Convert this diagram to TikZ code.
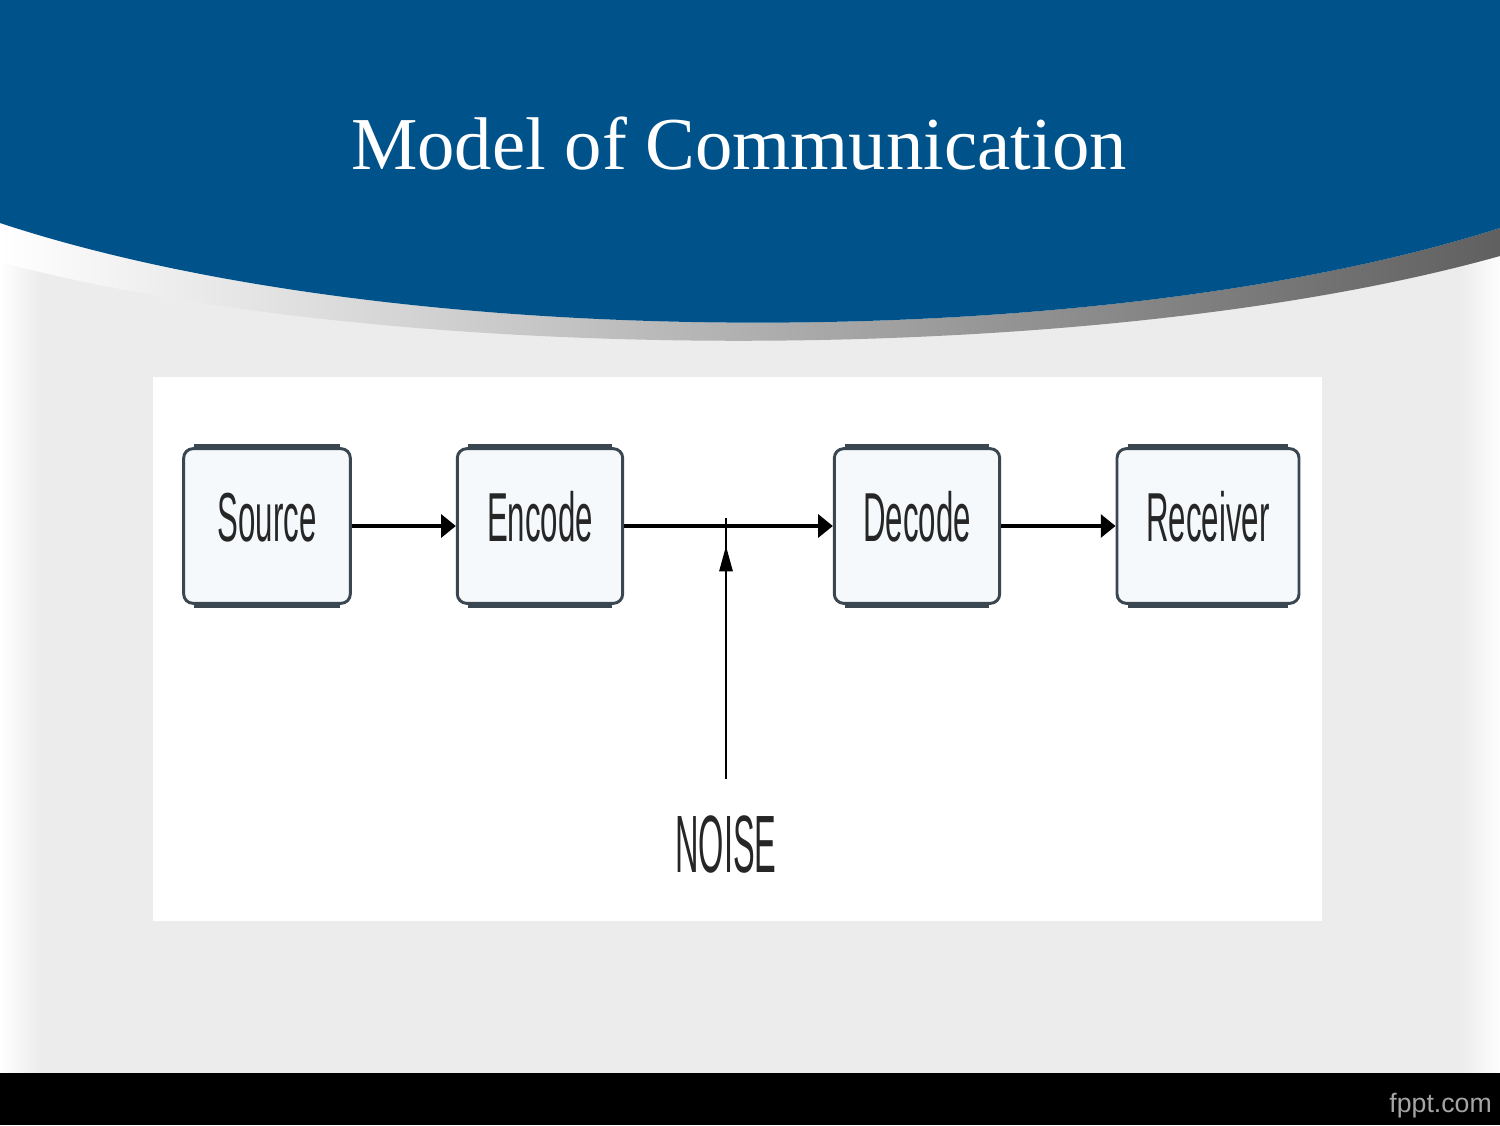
\documentclass[tikz,border=0pt]{standalone}
\usepackage{fontspec}
\setmainfont{Liberation Serif}
\newfontfamily\boxfont[FakeStretch=0.45]{Liberation Sans}
\newfontfamily\noisefont[FakeStretch=0.40]{Liberation Sans}
\newfontfamily\footfont{Liberation Sans}
\usetikzlibrary{arrows.meta}
\definecolor{bannerblue}{RGB}{0,82,139}
\definecolor{slidegray}{RGB}{236,236,236}
\definecolor{boxline}{RGB}{58,70,80}
\definecolor{boxfill}{RGB}{245,249,252}
\definecolor{labeltext}{RGB}{38,38,38}
\definecolor{footgray}{RGB}{165,165,165}

\begin{document}
\begin{tikzpicture}[x=0.75pt,y=0.75pt,yscale=-1,xscale=1,
	block/.style={draw=boxline, fill=boxfill, line width=2.2pt, rounded corners=7pt, minimum width=125pt, minimum height=116pt, inner sep=0pt, text height=38pt, text depth=15pt, font=\boxfont\fontsize{52}{52}\selectfont, text=labeltext},
	boxedge/.style={draw=boxline, line width=3pt},
	flow/.style={line width=3.4pt, -{Triangle[length=11pt,width=17pt]}},
	noisearrow/.style={line width=1.4pt, -{Triangle[length=19pt,width=10pt]}},
	noiseline/.style={line width=1.4pt}]
					\useasboundingbox (0,0) rectangle (1500,1125);
					
					%Shape: Slide background
					\fill [slidegray] (0,0) rectangle (1500,1073);
					\shade [left color=white, right color=slidegray] (0,0) rectangle (40,1073);
					\shade [left color=slidegray, right color=white!90!slidegray] (1460,0) rectangle (1500,1073);
					%Shape: Banner shadow band
					\shade [left color=white, middle color=gray!20, right color=gray!75!black] (0,223) .. controls (400,355) and (1100,355) .. (1500,228) -- (1500,256) .. controls (1100,368) and (400,368) .. (0,262) -- cycle ;
					%Shape: Banner
					\fill [bannerblue] (0,0) -- (1500,0) -- (1500,228) .. controls (1100,355) and (400,355) .. (0,223) -- cycle ;
					%Shape: Footer bar
					\fill [black] (0,1073) rectangle (1500,1125);
					%Shape: Picture panel
					\fill [white] (153,377) rectangle (1322,921);
					
					% Text Node
					\node [anchor=base, text=white, font=\fontsize{56}{60}\selectfont, inner sep=0pt] (title) at (739,169) {Model of Communication};
					% Text Node
					\node [anchor=base east, text=footgray, font=\footfont\fontsize{20}{24}\selectfont, inner sep=0pt] (footer) at (1492,1112) {fppt.com};
					
					%Shape: Blocks
					\node [block] (source) at (267,526) {Source};
					\node [block, minimum width=124pt] (encode) at (540,526) {Encode};
					\node [block, minimum width=124pt] (decode) at (917,526) {Decode};
					\node [block, minimum width=136.5pt] (receiver) at (1208,526) {Receiver};
					\foreach \n in {source,encode,decode,receiver} {
						\draw [boxedge] ([xshift=9pt,yshift=-1pt]\n.north west) -- ([xshift=-9pt,yshift=-1pt]\n.north east);
						\draw [boxedge] ([xshift=9pt,yshift=1pt]\n.south west) -- ([xshift=-9pt,yshift=1pt]\n.south east);
					}
					
					% Text Node
					\node [inner sep=0pt, text=labeltext, font=\noisefont\fontsize{61}{61}\selectfont] (noise) at (726,844) {NOISE};
					\coordinate (tap) at (726,546);
					\coordinate (cross) at (726,518);
					
					%Straight Lines
					\draw [flow] (source) -- (encode);
					\draw [flow] (encode) -- (decode);
					\draw [flow] (decode) -- (receiver);
					\draw [noiseline, shorten <=27pt] (noise) -- (cross);
					\draw [noisearrow, shorten <=27pt] (noise) -- (tap);
					
				\end{tikzpicture}
\end{document}
